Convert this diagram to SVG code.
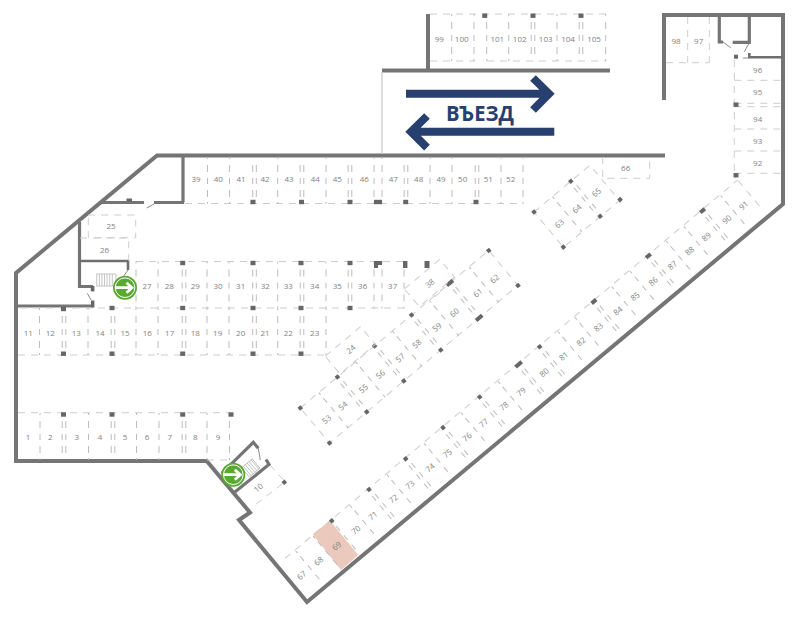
<svg xmlns="http://www.w3.org/2000/svg" xmlns:xlink="http://www.w3.org/1999/xlink" width="800" height="617" viewBox="0 0 800 617">
<style>
.w{fill:none;stroke:#757575;stroke-width:4;stroke-linejoin:miter}
.w3{fill:none;stroke:#757575;stroke-width:3.2;stroke-linejoin:miter}
.w2{fill:none;stroke:#6f6f6f;stroke-width:2.6}
.r{fill:none;stroke:#cdcdcd;stroke-width:1;stroke-dasharray:7 6}
.v{fill:none;stroke:#bcbcbc;stroke-width:1}
.th{fill:none;stroke:#8a8a8a;stroke-width:1}
.st{fill:none;stroke:#b8b8b8;stroke-width:.8}
.p{fill:#666}
text{font-family:"Open Sans","Liberation Sans",sans-serif;font-size:8px;fill:#7f7f7f;text-anchor:middle;dominant-baseline:central}
.big{font-size:22px;font-weight:700;fill:#27406f}
.a{fill:none;stroke:#27406f;stroke-width:8;stroke-linejoin:miter}
</style>
<defs>
<path id="dv" class="v" d="M0 0V2M0 8V15M0 21V27M0 33V40M0 45V47"/>
<path id="dd" class="v" d="M-1.8 8V15M-1.8 21V27M-1.8 33V40M1.8 8V15M1.8 21V27M1.8 33V40"/>
<path id="dr" class="v" d="M0 0V3M0 7V13M0 19V25M0 31V37"/>
<path id="drd" class="v" d="M-1.8 7V13M-1.8 19V25M-1.8 31V37M1.8 7V13M1.8 19V25M1.8 31V37"/>
<path id="ds" class="v" d="M0 0V3M0 7V13M0 19V25M0 31V37M0 43V46"/>
<rect id="pl" class="p" x="-2.5" y="-2.2" width="5" height="4.4"/>
<rect id="pd" class="p" x="-2" y="-2" width="4" height="4"/>
<g id="exit">
<circle r="12" fill="#5aa832"/>
<circle r="9.8" fill="none" stroke="#fff" stroke-width="1"/>
<path d="M-10 0H7M1.5-5L7 0L1.5 5" fill="none" stroke="#fff" stroke-width="2.8"/>
</g>
</defs>

<polygon points="312.7,534.3 330,520.7 358.3,555 341,570" fill="#ecc9bd"/>

<g id="walls">
<path class="w" d="M664 100V15H783V204L307 602L239 520L250 512.5L206.7 461H16V273L157 155.5H665"/>
<path class="w" d="M428 14V70.5M382 70.5H610"/>
<path d="M382 72V154" stroke="#cfcfcf" stroke-width="1.4" fill="none"/>
<path class="w3" d="M183 156V202.5M102 202.5H144M154 202.5H184"/>
<path class="w3" d="M79.5 222V286.5H93"/>
<path class="w3" d="M16 306H93"/>
<path class="w2" d="M80 261H128V270"/>
<path class="th" d="M146.7 208L154 204M128 270L123 277M87.3 293.3L91 300"/>
<rect class="p" x="90.8" y="286" width="3.6" height="5.4"/>
<rect class="p" x="91" y="300.5" width="3.4" height="7"/>
<rect class="p" x="126.5" y="198.5" width="5.5" height="3"/>
<path class="w3" d="M221.7 473.3L253.3 442.3L258.3 448.3M233.3 493.3L269 464.5L266 459.5"/>
<path class="th" d="M258.3 448.3L260.3 460"/>
<path class="w3" d="M719.3 15V42H723M749.3 15V42.3H732.7"/>
<path class="w2" d="M749.3 53V57.3H783"/>
<path class="th" d="M723 42L730.7 47.7M749 43.3L744.3 51.7M743 58H749"/>
</g>

<g id="stairs">
<path class="st" d="M96.7 274H116V286H96.7ZM99.3 274V286M101.9 274V286M104.5 274V286M107.1 274V286M109.7 274V286M112.3 274V286"/>
<g transform="translate(250.7 468) rotate(-39.9)">
<path class="st" d="M-7-6H7V6H-7ZM-4.5-6V6M-2-6V6M.5-6V6M3-6V6M5.5-6V6"/>
</g>
</g>

<g id="arrows">
<path class="a" d="M406 93.7H548M533 78L549 93.7L533 110"/>
<path class="a" d="M554.3 131.7H412M427 116L411 131.7L427 147.7"/>
<text class="big" x="480" y="112" textLength="68" lengthAdjust="spacingAndGlyphs">ВЪЕЗД</text>
</g>

<g id="row-39-52">
<path class="r" d="M185 203.5H523"/>
<g transform="translate(0 157)">
<use xlink:href="#dv" x="207.5"/><use xlink:href="#dv" x="229.5"/><use xlink:href="#dd" x="254.5"/><use xlink:href="#dv" x="277.7"/><use xlink:href="#dd" x="302"/><use xlink:href="#dv" x="326"/><use xlink:href="#dd" x="350"/><use xlink:href="#dv" x="374"/><use xlink:href="#dv" x="382"/><use xlink:href="#dd" x="406"/><use xlink:href="#dv" x="430"/><use xlink:href="#dv" x="452"/><use xlink:href="#dd" x="477"/><use xlink:href="#dv" x="501"/><use xlink:href="#dv" x="523"/>
</g>
<use xlink:href="#pl" x="253" y="202"/><use xlink:href="#pl" x="301.5" y="202"/><use xlink:href="#pl" x="350" y="202"/><rect class="p" x="374" y="199.8" width="8" height="4.4"/><use xlink:href="#pl" x="405.7" y="202"/><use xlink:href="#pl" x="476" y="202"/>
<g transform="translate(0 178.5)"><text x="196">39</text><text x="218.3">40</text><text x="241">41</text><text x="265">42</text><text x="289">43</text><text x="315.3">44</text><text x="337.3">45</text><text x="364.3">46</text><text x="393.3">47</text><text x="418.7">48</text><text x="441">49</text><text x="462.7">50</text><text x="488.3">51</text><text x="510.7">52</text></g>
</g>

<g id="row-27-37">
<path class="r" d="M136 261.5H404M20 308H404"/>
<g transform="translate(0 261.5)">
<use xlink:href="#dv" x="136"/><use xlink:href="#dv" x="158"/><use xlink:href="#dd" x="184"/><use xlink:href="#dv" x="207"/><use xlink:href="#dv" x="229"/><use xlink:href="#dd" x="254.5"/><use xlink:href="#dv" x="277.7"/><use xlink:href="#dd" x="302"/><use xlink:href="#dv" x="326"/><use xlink:href="#dd" x="350"/><use xlink:href="#dv" x="374"/><use xlink:href="#dv" x="382"/><use xlink:href="#dv" x="404"/>
</g>
<use xlink:href="#pl" x="182.7" y="263"/><use xlink:href="#pl" x="253" y="263"/><use xlink:href="#pl" x="301" y="263"/><use xlink:href="#pl" x="350" y="263"/>
<path class="p" d="M374 261H382V265H378V268H374Z"/><rect class="p" x="403" y="261" width="4.4" height="7"/><rect class="p" x="424.5" y="261" width="5" height="7"/>
<use xlink:href="#pl" x="112" y="308"/><use xlink:href="#pl" x="182.7" y="308"/><use xlink:href="#pl" x="253" y="308"/><use xlink:href="#pl" x="301" y="308"/><use xlink:href="#pl" x="350" y="308"/><use xlink:href="#pl" x="63.5" y="309"/>
<g transform="translate(0 285)"><text x="147">27</text><text x="169.3">28</text><text x="195.3">29</text><text x="218">30</text><text x="240.7">31</text><text x="265.3">32</text><text x="288.3">33</text><text x="314.7">34</text><text x="337.3">35</text><text x="362.7">36</text><text x="392.7">37</text></g>
</g>

<g id="row-11-23">
<path class="r" d="M18 355H326"/>
<g transform="translate(0 308)">
<use xlink:href="#dv" x="39.5"/><use xlink:href="#dd" x="64"/><use xlink:href="#dv" x="88"/><use xlink:href="#dd" x="113"/><use xlink:href="#dv" x="136"/><use xlink:href="#dv" x="158"/><use xlink:href="#dd" x="184"/><use xlink:href="#dv" x="207"/><use xlink:href="#dv" x="229"/><use xlink:href="#dd" x="254.5"/><use xlink:href="#dv" x="277.7"/><use xlink:href="#dd" x="302"/><use xlink:href="#dv" x="326"/>
</g>
<use xlink:href="#pl" x="63.5" y="353.7"/><use xlink:href="#pl" x="112" y="353.7"/><use xlink:href="#pl" x="182.7" y="353.7"/><use xlink:href="#pl" x="253" y="353.7"/><use xlink:href="#pl" x="301" y="353.7"/>
<g transform="translate(0 332)"><text x="28.3">11</text><text x="50.3">12</text><text x="76.3">13</text><text x="100">14</text><text x="125">15</text><text x="147.3">16</text><text x="169.7">17</text><text x="195.3">18</text><text x="217.7">19</text><text x="240.7">20</text><text x="265">21</text><text x="288.3">22</text><text x="314.7">23</text></g>
</g>

<g id="row-1-9">
<path class="r" d="M18 412.7H229.5M207 460H229.5"/>
<g transform="translate(0 413)">
<use xlink:href="#dv" x="40"/><use xlink:href="#dd" x="64"/><use xlink:href="#dv" x="88.5"/><use xlink:href="#dd" x="113"/><use xlink:href="#dv" x="136.5"/><use xlink:href="#dv" x="159"/><use xlink:href="#dd" x="184"/><use xlink:href="#dv" x="207"/><use xlink:href="#dv" x="229.5"/>
</g>
<use xlink:href="#pl" x="63.5" y="414.5"/><use xlink:href="#pl" x="112" y="414.5"/><use xlink:href="#pl" x="182.7" y="414.5"/><use xlink:href="#pl" x="231" y="414.5"/>
<g transform="translate(0 436)"><text x="28">1</text><text x="50.3">2</text><text x="76.7">3</text><text x="100">4</text><text x="125">5</text><text x="147">6</text><text x="169.7">7</text><text x="195.3">8</text><text x="218">9</text></g>
</g>

<g id="row-99-105">
<path class="r" d="M430 14H606M430 61H475M487 61H606"/>
<g transform="translate(0 14)">
<use xlink:href="#dv" x="451.7"/><use xlink:href="#dv" x="474"/><use xlink:href="#dv" x="486.7"/><use xlink:href="#dv" x="508.7"/><use xlink:href="#dd" x="533"/><use xlink:href="#dv" x="557"/><use xlink:href="#dd" x="581"/><use xlink:href="#dv" x="605.7"/>
</g>
<use xlink:href="#pl" x="484.7" y="15.7"/><use xlink:href="#pl" x="533" y="15.7"/><use xlink:href="#pl" x="581" y="15.7"/>
<g transform="translate(0 38)"><text x="439.3">99</text><text x="461.7">100</text><text x="497.3">101</text><text x="519.7">102</text><text x="545.7">103</text><text x="568">104</text><text x="594">105</text></g>
</g>

<g id="row-92-98">
<path class="r" d="M687.7 17V62.7M709.3 17V62.7M666 62.7H709.3M734.3 60V176M734.3 80.3H781M734.3 103.3H781M734.3 106.7H781M734.3 129H781M734.3 151H781M734.3 173.3H781"/>
<use xlink:href="#pd" x="736" y="56.7"/><use xlink:href="#pl" x="736" y="104.7"/><use xlink:href="#pl" x="736" y="175.3"/>
<text x="676" y="40">98</text><text x="698.7" y="40">97</text>
<text x="757.7" y="69.7">96</text><text x="757.7" y="91.7">95</text><text x="757.7" y="118.7">94</text><text x="757.7" y="140.7">93</text><text x="757.7" y="162.3">92</text>
</g>

<g id="space-66">
<path class="r" d="M602.7 157V178.3H649.7V157"/>
<text x="625.7" y="167.3">66</text>
</g>

<g id="space-10">
<path class="r" d="M270 465L285 481.7L255 505"/>
<use xlink:href="#pd" transform="translate(284.3 482.3) rotate(-39.9)"/>
<text transform="translate(258 487.3) rotate(-39.9)">10</text>
</g>

<g id="spaces-25-26">
<path class="r" d="M88.3 215H135.7V237.7H88.3ZM80 238H128.7V261"/>
<text x="111" y="225">25</text><text x="104.6" y="249.5">26</text>
</g>

<g id="row-67-91" transform="translate(331.7 520.7) rotate(-39.9)">
<path class="r" d="M-60-1H530M530 0V34"/>
<use xlink:href="#dr" x="-47"/><use xlink:href="#dr" x="-24"/><use xlink:href="#dr" x="0"/><use xlink:href="#dr" x="24"/><use xlink:href="#drd" x="48.6"/><use xlink:href="#dr" x="72"/><use xlink:href="#drd" x="96.4"/><use xlink:href="#dr" x="120.5"/><use xlink:href="#drd" x="145"/><use xlink:href="#dr" x="168.5"/><use xlink:href="#drd" x="192.9"/><use xlink:href="#dr" x="217"/><use xlink:href="#drd" x="243.7"/><use xlink:href="#drd" x="271"/><use xlink:href="#dr" x="295"/><use xlink:href="#dr" x="317"/><use xlink:href="#drd" x="341.8"/><use xlink:href="#dr" x="365"/><use xlink:href="#dr" x="389"/><use xlink:href="#drd" x="412.8"/><use xlink:href="#dr" x="436"/><use xlink:href="#dr" x="459"/><use xlink:href="#drd" x="483.4"/><use xlink:href="#dr" x="507"/>
<use xlink:href="#pd" x="0" y="0"/><use xlink:href="#pd" x="48.6" y="0"/><use xlink:href="#pd" x="96.4" y="0"/><use xlink:href="#pd" x="145.1" y="0"/><use xlink:href="#pd" x="192.9" y="0"/><rect class="p" x="239.7" y="-2" width="8" height="4"/><use xlink:href="#pd" x="271.1" y="0"/><rect class="p" x="338.8" y="-2" width="6" height="4"/><rect class="p" x="409.8" y="-2" width="6" height="4"/><rect class="p" x="480.4" y="-2" width="6" height="4"/>
<g transform="translate(0 22)"><text x="-58.2">67</text><text x="-35.8">68</text><text x="-12.3">69</text><text x="12.6">70</text><text x="34.9">71</text><text x="61.4">72</text><text x="82.9">73</text><text x="109.4">74</text><text x="131.9">75</text><text x="157.5">76</text><text x="179.3">77</text><text x="205.6">78</text><text x="228">79</text><text x="258.1">80</text><text x="283.5">81</text><text x="306.2">82</text><text x="328.7">83</text><text x="354.1">84</text><text x="376.7">85</text><text x="400.2">86</text><text x="425.2">87</text><text x="447.6">88</text><text x="469.6">89</text><text x="496.4">90</text><text x="518.2">91</text></g>
</g>

<g id="row-53-62" transform="translate(300.3 408) rotate(-39.9)">
<path class="r" d="M0 0H245.6V45.6H0Z"/>
<use xlink:href="#ds" x="24"/><use xlink:href="#drd" x="48.4"/><use xlink:href="#ds" x="72"/><use xlink:href="#drd" x="96.8"/><use xlink:href="#ds" x="120"/><use xlink:href="#drd" x="145"/><use xlink:href="#ds" x="168"/><use xlink:href="#drd" x="195"/><use xlink:href="#ds" x="220"/>
<use xlink:href="#pd" x="0" y="0"/><use xlink:href="#pd" x="48.4" y="0"/><use xlink:href="#pd" x="96.8" y="0"/><use xlink:href="#pd" x="145" y="0"/><rect class="p" x="191" y="-2" width="8" height="4"/><use xlink:href="#pd" x="245.6" y="0"/>
<use xlink:href="#pd" x="0" y="45.6"/><use xlink:href="#pd" x="48.4" y="45.6"/><use xlink:href="#pd" x="96.8" y="45.6"/><use xlink:href="#pd" x="145" y="45.6"/><rect class="p" x="191" y="43.6" width="8" height="4"/><use xlink:href="#pd" x="245.6" y="45.6"/>
<g transform="translate(0 25)"><text x="12.9">53</text><text x="34">54</text><text x="60.8">55</text><text x="83.1">56</text><text x="108.8">57</text><text x="130.6">58</text><text x="156.6">59</text><text x="179.4">60</text><text x="210.2">61</text><text x="232">62</text></g>
</g>

<g id="space-38" transform="translate(429.5 283) rotate(-39.9)">
<path class="r" d="M-23-11.5H23V11.5H-23ZM-5 14H8"/>
<text>38</text>
</g>
<g id="space-24" transform="translate(350.3 350.3) rotate(-39.9)">
<path class="r" d="M-23-11.5H23V11.5H-23Z"/>
<text x="1" y="-1">24</text>
</g>

<g id="row-63-65" transform="translate(534 212) rotate(-39.9)">
<path class="r" d="M0 0H73V46H0Z"/>
<use xlink:href="#ds" x="24"/><use xlink:href="#drd" x="48"/>
<use xlink:href="#pd" x="0" y="0"/><use xlink:href="#pd" x="48" y="0"/><use xlink:href="#pd" x="0" y="45.7"/><use xlink:href="#pd" x="48" y="45.7"/><use xlink:href="#pd" x="74" y="45.7"/>
<g transform="translate(0 24.5)"><text x="12">63</text><text x="34.9">64</text><text x="60.5">65</text></g>
</g>

<g id="exit-1"><use xlink:href="#exit" x="125" y="287.7"/></g>
<g id="exit-2"><use xlink:href="#exit" x="233.3" y="474.7"/></g>
</svg>
